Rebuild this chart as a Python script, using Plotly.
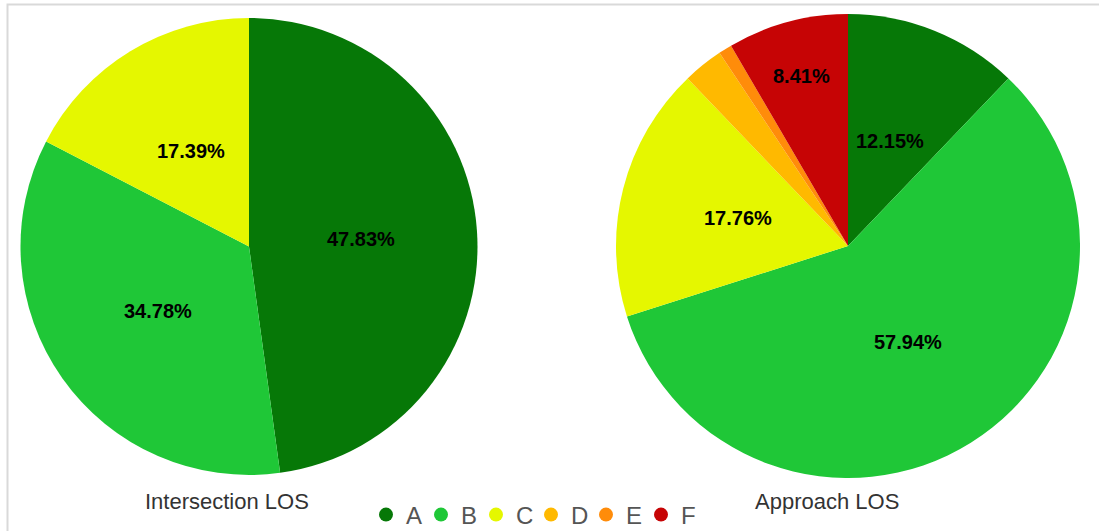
import math
import plotly.graph_objects as go

categories = ["A", "B", "C", "D", "E", "F"]
colors = ["#067807", "#1fc737", "#e5f700", "#ffb900", "#ff8c0a", "#c60405"]

intersection_labels = ["A", "B", "C"]
intersection_values = [11, 8, 4]
approach_values = [13, 62, 19, 3, 1, 9]

titles = ["Intersection LOS", "Approach LOS"]

W, H = 1099, 531

# pie boxes in pixels (left, right, top, bottom)
boxes = [(20, 478, 18, 475), (616, 1080, 14, 478)]


def px_dom(b):
    x0, x1, y0, y1 = b
    return dict(x=[x0 / W, x1 / W], y=[1 - y1 / H, 1 - y0 / H])


fig = go.Figure()

series = [(intersection_labels, intersection_values, colors[:3]),
          (categories, approach_values, colors)]

for (labs, vals, cols), box in zip(series, boxes):
    fig.add_trace(go.Pie(
        labels=labs, values=vals,
        marker=dict(colors=cols, line=dict(width=0)),
        sort=False, direction="clockwise", rotation=0,
        textinfo="none", textposition="none",
        showlegend=False, hoverinfo="label+percent",
        domain=px_dom(box),
    ))
    # percentage labels along each slice's bisector
    tot = sum(vals)
    cx = (box[0] + box[1]) / 2
    cy = (box[2] + box[3]) / 2
    r = min(box[1] - box[0], box[3] - box[2]) / 2
    cum = 0
    for v in vals:
        frac = v / tot
        mid = (cum + frac / 2) * 2 * math.pi
        cum += frac
        if frac <= 0.05:
            continue
        rf = 0.49 if frac >= 0.1 else 0.76
        x = cx + rf * r * math.sin(mid)
        y = cy - rf * r * math.cos(mid)
        fig.add_annotation(
            x=x / W, y=1 - y / H, xref="paper", yref="paper",
            xanchor="center", yanchor="middle",
            text=f"{frac * 100:.2f}%", showarrow=False,
            font=dict(family="Liberation Sans, Arial", size=20,
                      color="#000000", weight="bold"),
        )

for cat, col in zip(categories, colors):
    fig.add_trace(go.Scatter(
        x=[None], y=[None], mode="markers", name=cat,
        marker=dict(color=col, size=14, symbol="circle"),
        showlegend=True,
    ))

for t, tx in zip(titles, [227, 827]):
    fig.add_annotation(x=tx / W, y=1 - 501 / H, xref="paper", yref="paper",
                       xanchor="center", yanchor="middle",
                       text=t, showarrow=False,
                       font=dict(family="Liberation Sans, Arial", size=22, color="#333333"))

fig.add_shape(type="rect", xref="paper", yref="paper",
              x0=7.5 / W, x1=1.02, y0=-0.02, y1=1 - 4.5 / H,
              line=dict(color="#d9d9d9", width=2), fillcolor="rgba(0,0,0,0)", layer="below")

fig.update_layout(
    width=W, height=H,
    margin=dict(l=0, r=0, t=0, b=0, autoexpand=False),
    paper_bgcolor="white", plot_bgcolor="white",
    xaxis=dict(visible=False), yaxis=dict(visible=False),
    legend=dict(orientation="h", x=531 / W, xanchor="center",
                y=1 - 515 / H, yanchor="middle",
                font=dict(family="Liberation Sans, Arial", size=24, color="#555555"),
                entrywidth=10, entrywidthmode="pixels",
                bgcolor="rgba(0,0,0,0)"),
)

fig.write_html("out.html")
